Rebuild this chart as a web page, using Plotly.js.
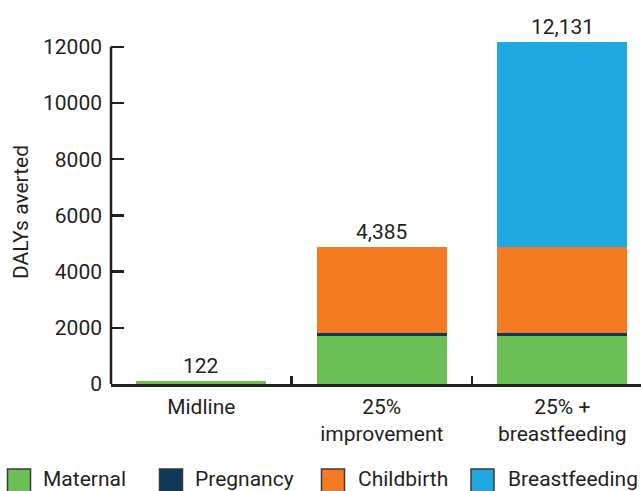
<!DOCTYPE html>
<html>
<head>
<meta charset="utf-8">
<script src="https://cdn.plot.ly/plotly-3.0.1.min.js"></script>
<style>
html,body{margin:0;padding:0;background:#fff;}
#chart{width:641px;height:491px;}
</style>
</head>
<body>
<div id="chart"></div>
<script>
// ---- data ----
var categories = ['Midline', '25%<br>improvement', '25% +<br>breastfeeding'];
var seriesNames = ['Maternal', 'Pregnancy', 'Childbirth', 'Breastfeeding'];
var maternal = [95, 1708, 1708];
var pregnancy = [4, 117, 117];
var childbirth = [15, 3059, 3059];
var breastfeeding = [8, 0, 7293];
var totalLabels = ['122', '4,385', '12,131'];
var yTicks = [0, 2000, 4000, 6000, 8000, 10000, 12000];

// ---- styles ----
var colors = ['#6cbf55', '#0d3a58', '#f47b22', '#1ea9e0'];
var textColor = '#231f20';
var fontFam = 'Roboto, "Open Sans", sans-serif';
var fs = 21;

var seriesValues = [maternal, pregnancy, childbirth, breastfeeding];
var traces = seriesValues.map(function (vals, i) {
  return {
    type: 'bar',
    name: seriesNames[i],
    x: categories,
    y: vals,
    marker: {color: colors[i], line: {width: 0}},
    hoverinfo: 'x+y+name'
  };
});

// layout geometry (pixels)
var W = 641, H = 491;
var mL = 111, mR = 0, mT = 40, mB = 107;
var plotW = W - mL - mR, plotH = H - mT - mB;
function pxX(x) { return (x - mL) / plotW; }
function pxY(y) { return (H - mB - y) / plotH; }

var annotations = categories.map(function (c, i) {
  var tot = 0;
  seriesValues.forEach(function (s) { tot += s[i]; });
  return {
    x: c, y: tot, xref: 'x', yref: 'y',
    text: totalLabels[i], showarrow: false,
    yanchor: 'bottom', yshift: 1,
    font: {family: fontFam, size: fs, color: textColor}
  };
});

var shapes = [
  // y axis line from 0 to top tick
  {type: 'line', xref: 'paper', yref: 'y', x0: 0, x1: 0, y0: yTicks[0], y1: yTicks[yTicks.length - 1],
   line: {color: textColor, width: 2.5}, layer: 'above'}
];

// custom legend
var legSquareX = [7.5, 159.5, 321.5, 471];
var legTextX = [41, 192.5, 355.5, 505.5];
var sq = 23;
seriesNames.forEach(function (n, i) {
  shapes.push({
    type: 'rect', xref: 'paper', yref: 'paper',
    x0: pxX(legSquareX[i]), x1: pxX(legSquareX[i] + sq),
    y0: pxY(469), y1: pxY(469 + sq),
    fillcolor: colors[i], line: {color: '#3a3a3a', width: 1.5}
  });
  annotations.push({
    xref: 'paper', yref: 'paper', x: pxX(legTextX[i]), y: pxY(479),
    xanchor: 'left', yanchor: 'middle', showarrow: false, text: n,
    font: {family: fontFam, size: fs, color: textColor}
  });
});

var layout = {
  width: W, height: H,
  margin: {l: mL, r: mR, t: mT, b: mB, pad: 0},
  paper_bgcolor: '#ffffff', plot_bgcolor: '#ffffff',
  barmode: 'stack', bargap: 0.28,
  showlegend: false,
  font: {family: fontFam, size: fs, color: textColor},
  xaxis: {
    type: 'category',
    range: [-0.5, -0.5 + plotW / 180.5],
    showline: true, linecolor: textColor, linewidth: 2.5,
    ticks: 'inside', tickson: 'boundaries', ticklen: 8, tickwidth: 2.5, tickcolor: textColor,
    showgrid: false, zeroline: false,
    tickfont: {family: fontFam, size: fs, color: textColor},
    ticklabelstandoff: 2
  },
  yaxis: {
    range: [0, plotH / 0.0281],
    tickvals: yTicks, tickformat: 'd',
    showline: false,
    ticks: 'inside', ticklen: 13, tickwidth: 2.5, tickcolor: textColor,
    showgrid: false, zeroline: false,
    tickfont: {family: fontFam, size: fs, color: textColor},
    ticklabelstandoff: 8,
    title: {text: 'DALYs averted', font: {family: fontFam, size: fs, color: textColor}, standoff: 8}
  },
  shapes: shapes,
  annotations: annotations
};

Plotly.newPlot('chart', traces, layout, {displayModeBar: false, staticPlot: true});
</script>
</body>
</html>
